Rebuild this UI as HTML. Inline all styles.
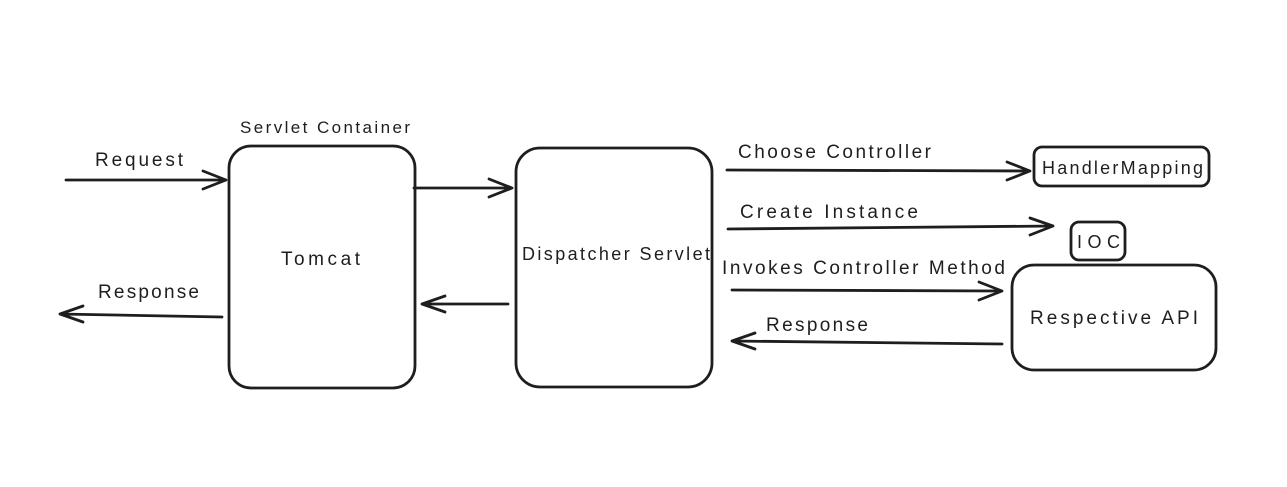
<!DOCTYPE html>
<html><head><meta charset="utf-8"><style>
html,body{margin:0;padding:0;background:#fff;}
svg{display:block;}
text{font-family:"Liberation Sans",sans-serif;fill:#1e1e1e;}
</style></head><body>
<svg width="1287" height="487" viewBox="0 0 1287 487" xmlns="http://www.w3.org/2000/svg">
<rect width="1287" height="487" fill="#fff"/>
<g fill="none" stroke="#1e1e1e" stroke-width="2.8" stroke-linecap="round" stroke-linejoin="round">
<rect x="229" y="146" width="186" height="242" rx="22"/>
<rect x="516" y="148" width="196" height="239" rx="24"/>
<rect x="1034" y="147" width="175" height="39" rx="8"/>
<rect x="1071" y="222" width="54" height="38" rx="8"/>
<rect x="1012" y="265" width="204" height="105" rx="22"/>
<path d="M66 180 L226 180 M203 171 L226 180 L203 189"/>
<path d="M222 317 L60 314 M83 306 L60 314 L83 322"/>
<path d="M414 188 L512 188 M489 179 L512 188 L489 197"/>
<path d="M508 304 L422 304 M445 296 L422 304 L445 312"/>
<path d="M727 170 L1030 171 M1007 162 L1030 171 L1007 180"/>
<path d="M728 229 L1053 226 M1030 218 L1053 226 L1030 235"/>
<path d="M732 290 L1002 291 M979 282 L1002 291 L979 300"/>
<path d="M1002 344 L732 341 M755 333 L732 341 L755 349"/>
</g>
<g font-size="19" lengthAdjust="spacing">
<text x="240" y="133" font-size="17" textLength="170">Servlet Container</text>
<text x="95" y="166" textLength="88">Request</text>
<text x="98" y="298" textLength="101">Response</text>
<text x="281" y="265" textLength="79">Tomcat</text>
<text x="522" y="260" font-size="18" textLength="188">Dispatcher Servlet</text>
<text x="738" y="158" textLength="193">Choose Controller</text>
<text x="740" y="218" textLength="178">Create Instance</text>
<text x="722" y="274" textLength="283">Invokes Controller Method</text>
<text x="766" y="331" textLength="102">Response</text>
<text x="1042" y="174" font-size="18" textLength="161">HandlerMapping</text>
<text x="1077" y="248" font-size="18" textLength="43">IOC</text>
<text x="1030" y="324" textLength="168">Respective API</text>
</g>
</svg>
</body></html>
